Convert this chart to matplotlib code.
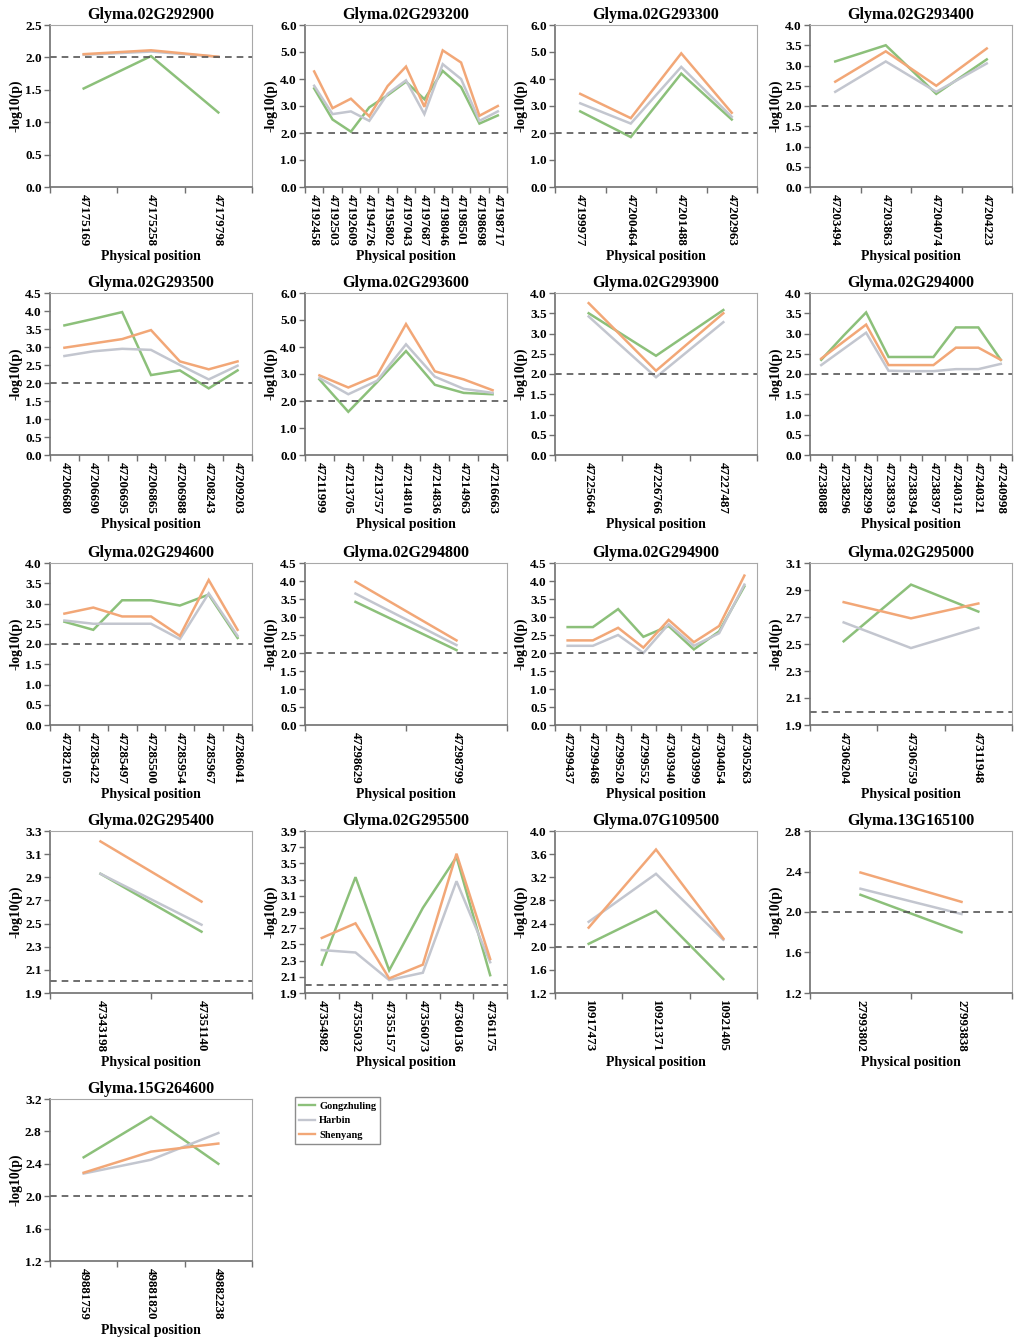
import matplotlib
matplotlib.use("Agg")
import matplotlib.pyplot as plt
from matplotlib.lines import Line2D
import numpy as np

plt.rcParams['font.family'] = ['Liberation Serif', 'DejaVu Serif']
plt.rcParams['font.weight'] = 'bold'

series_names = ["Gongzhuling", "Harbin", "Shenyang"]
series_colors = ["#8cc07a", "#c3c6cf", "#f2a777"]

genes = ["Glyma.02G292900", "Glyma.02G293200", "Glyma.02G293300", "Glyma.02G293400",
         "Glyma.02G293500", "Glyma.02G293600", "Glyma.02G293900", "Glyma.02G294000",
         "Glyma.02G294600", "Glyma.02G294800", "Glyma.02G294900", "Glyma.02G295000",
         "Glyma.02G295400", "Glyma.02G295500", "Glyma.07G109500", "Glyma.13G165100",
         "Glyma.15G264600"]

positions = [
    ["47175169", "47175258", "47179798"],
    ["47192458", "47192503", "47192609", "47194726", "47195802", "47197043", "47197687",
     "47198046", "47198501", "47198698", "47198717"],
    ["47199977", "47200464", "47201488", "47202963"],
    ["47203494", "47203863", "47204074", "47204223"],
    ["47206680", "47206690", "47206695", "47206865", "47206988", "47208243", "47209203"],
    ["47211999", "47213705", "47213757", "47214810", "47214836", "47214963", "47216663"],
    ["47225664", "47226766", "47227487"],
    ["47238088", "47238296", "47238299", "47238393", "47238394", "47238397", "47240312",
     "47240321", "47240998"],
    ["47282105", "47285422", "47285497", "47285500", "47285954", "47285967", "47286041"],
    ["47298629", "47298799"],
    ["47299437", "47299468", "47299520", "47299552", "47303940", "47303999", "47304054", "47305263"],
    ["47306204", "47306759", "47311948"],
    ["47343198", "47351140"],
    ["47354982", "47355032", "47355157", "47356073", "47360136", "47361175"],
    ["10917473", "10921371", "10921405"],
    ["27993802", "27993838"],
    ["49881759", "49881820", "49882238"],
]

gongzhuling = [
    [1.52, 2.02, 1.15],
    [3.65, 2.50, 2.05, 2.95, 3.40, 3.90, 3.25, 4.30, 3.70, 2.35, 2.65],
    [2.80, 1.85, 4.20, 2.50],
    [3.10, 3.50, 2.30, 3.15],
    [3.60, 3.78, 3.97, 2.22, 2.35, 1.85, 2.35],
    [2.80, 1.60, 2.70, 3.85, 2.60, 2.30, 2.25],
    [3.50, 2.45, 3.58],
    [2.35, 2.95, 3.52, 2.42, 2.42, 2.42, 3.15, 3.15, 2.35],
    [2.55, 2.35, 3.08, 3.08, 2.95, 3.22, 2.15],
    [3.42, 2.08],
    [2.72, 2.72, 3.22, 2.45, 2.75, 2.10, 2.60, 3.85],
    [2.52, 2.94, 2.74],
    [2.93, 2.43],
    [2.25, 3.33, 2.18, 2.95, 3.58, 2.12],
    [2.05, 2.62, 1.44],
    [2.17, 1.80],
    [2.48, 2.98, 2.40],
]

harbin = [
    [2.04, 2.09, 2.01],
    [3.75, 2.70, 2.80, 2.45, 3.45, 3.95, 2.70, 4.55, 4.00, 2.45, 2.80],
    [3.10, 2.35, 4.45, 2.60],
    [2.35, 3.10, 2.35, 3.05],
    [2.75, 2.88, 2.95, 2.92, 2.50, 2.10, 2.48],
    [2.85, 2.25, 2.75, 4.10, 2.90, 2.45, 2.30],
    [3.42, 1.92, 3.28],
    [2.22, 2.62, 3.02, 2.08, 2.07, 2.07, 2.12, 2.12, 2.25],
    [2.58, 2.50, 2.50, 2.50, 2.12, 3.25, 2.20],
    [3.65, 2.22],
    [2.20, 2.20, 2.50, 2.00, 2.80, 2.20, 2.55, 3.90],
    [2.66, 2.47, 2.62],
    [2.93, 2.49],
    [2.43, 2.40, 2.06, 2.15, 3.28, 2.28],
    [2.43, 3.26, 2.12],
    [2.23, 1.98],
    [2.28, 2.45, 2.78],
]

shenyang = [
    [2.05, 2.11, 2.01],
    [4.28, 2.92, 3.27, 2.62, 3.74, 4.46, 2.97, 5.06, 4.61, 2.64, 3.00],
    [3.45, 2.55, 4.95, 2.75],
    [2.60, 3.35, 2.50, 3.42],
    [2.98, 3.10, 3.22, 3.47, 2.60, 2.38, 2.60],
    [2.95, 2.50, 2.95, 4.85, 3.10, 2.80, 2.40],
    [3.75, 2.08, 3.50],
    [2.38, 2.80, 3.22, 2.22, 2.22, 2.22, 2.65, 2.65, 2.35],
    [2.75, 2.90, 2.68, 2.68, 2.20, 3.58, 2.35],
    [3.98, 2.35],
    [2.35, 2.35, 2.70, 2.15, 2.92, 2.30, 2.75, 4.15],
    [2.81, 2.69, 2.80],
    [3.21, 2.69],
    [2.58, 2.76, 2.08, 2.25, 3.62, 2.32],
    [2.33, 3.68, 2.14],
    [2.39, 2.10],
    [2.29, 2.55, 2.65],
]

# y-axis (min, max, step) per panel
y_ranges = [
    (0.0, 2.5, 0.5), (0.0, 6.0, 1.0), (0.0, 6.0, 1.0), (0.0, 4.0, 0.5),
    (0.0, 4.5, 0.5), (0.0, 6.0, 1.0), (0.0, 4.0, 0.5), (0.0, 4.0, 0.5),
    (0.0, 4.0, 0.5), (0.0, 4.5, 0.5), (0.0, 4.5, 0.5), (1.9, 3.1, 0.2),
    (1.9, 3.3, 0.2), (1.9, 3.9, 0.2), (1.2, 4.0, 0.4), (1.2, 2.8, 0.4),
    (1.2, 3.2, 0.4),
]
threshold = 2.0

W, H = 1019, 1339
fig = plt.figure(figsize=(W / 100, H / 100), dpi=100)

col_left = [50, 305, 555, 810]
row_top = [25, 293, 563, 831, 1099]
aw, ah = 202, 162

axis_dark = "#707070"
frame_gray = "#a8a8a8"

for i, gene in enumerate(genes):
    r, c = divmod(i, 4)
    l, t = col_left[c], row_top[r]
    ax = fig.add_axes([l / W, 1 - (t + ah) / H, aw / W, ah / H])
    n = len(positions[i])
    x = np.arange(n) + 0.5
    for vals, col in zip([gongzhuling[i], harbin[i], shenyang[i]], series_colors):
        ax.plot(x, vals, color=col, lw=1.8, solid_joinstyle='miter')
    ax.axhline(threshold, color="#555555", lw=1.2, ls=(0, (4, 3)))
    ymin, ymax, step = y_ranges[i]
    ax.set_xlim(0, n)
    ax.set_ylim(ymin, ymax)
    yt = np.arange(ymin, ymax + step / 2, step)
    ax.set_yticks(yt)
    ax.set_yticklabels([f"{v:.1f}" for v in yt], fontsize=9.5, fontweight='bold')
    ax.set_xticks(np.arange(n + 1))
    ax.set_xticklabels([])
    ax.set_xticks(x, minor=True)
    ax.set_xticklabels(positions[i], minor=True, rotation=270, fontsize=9.4,
                       fontweight='bold', va='top', ha='center')
    ax.tick_params(axis='x', which='minor', length=0, pad=5)
    ax.tick_params(axis='x', which='major', length=4, width=1, color=axis_dark, direction='out')
    ax.tick_params(axis='y', length=4, width=1, color=axis_dark, direction='out', pad=2)
    for s in ['top', 'right']:
        ax.spines[s].set_color(frame_gray)
        ax.spines[s].set_linewidth(0.8)
    for s in ['left', 'bottom']:
        ax.spines[s].set_color(axis_dark)
        ax.spines[s].set_linewidth(1.2)
    ax.set_title(gene, fontsize=11.5, fontweight='bold', pad=4)
    ax.set_ylabel("-log10(p)", fontsize=9.8, fontweight='bold', labelpad=2)
    ax.set_xlabel("Physical position", fontsize=10, fontweight='bold', labelpad=3)

handles = [Line2D([0], [0], color=c, lw=1.7) for c in series_colors]
leg = fig.legend(handles, series_names, loc='upper left',
                 bbox_to_anchor=(290 / W, 1 - 1092 / H),
                 prop={'family': 'Liberation Serif', 'weight': 'bold', 'size': 7.5},
                 frameon=True, fancybox=False, handlelength=1.5, handletextpad=0.4,
                 borderpad=0.4, labelspacing=0.5)
leg.get_frame().set_edgecolor("#707070")
leg.get_frame().set_linewidth(1.0)

fig.savefig("out.png", dpi=100)
